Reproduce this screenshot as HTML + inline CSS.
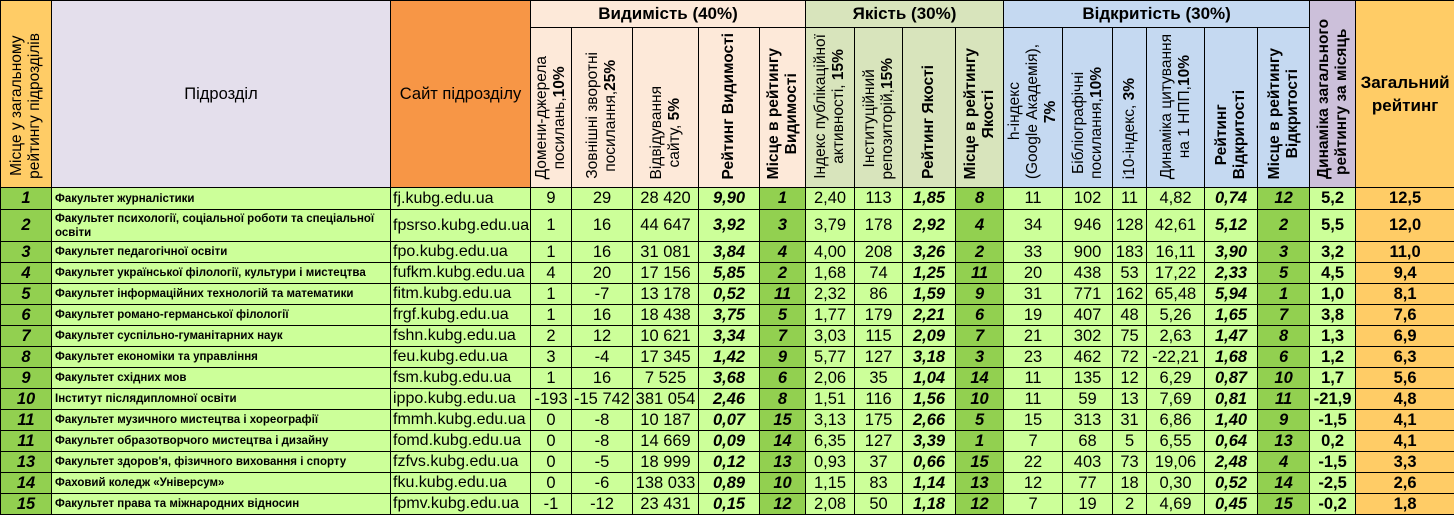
<!DOCTYPE html>
<html><head><meta charset="utf-8"><style>
body{margin:0;width:1454px;height:516px;overflow:hidden;background:#fff;font-family:"Liberation Sans",Arial,sans-serif}
table{border-collapse:collapse;table-layout:fixed;position:absolute;left:0;top:0;width:1454px}
td{border:1px solid #000;padding:0;text-align:center;font-size:16.5px;color:#000;overflow:hidden;white-space:nowrap;background:#CCFF99}
.hr td{vertical-align:bottom;padding-bottom:3px}
.v{writing-mode:vertical-rl;transform:rotate(180deg);display:inline-block;font-size:15.5px;line-height:18px;text-align:left;white-space:nowrap;max-height:154px}
.b{font-weight:bold}
.r{font-weight:bold;font-style:italic}
.rk{background:#92D050;font-weight:bold;font-style:italic}
.nm{text-align:left;font-weight:bold;font-size:11.5px;padding-left:3px;white-space:normal;line-height:14px}
.st{text-align:left;font-size:16px;padding-left:2px}
.tot{background:#FFCC66;font-weight:bold}
.dy{font-weight:bold}
.h0{background:#FFCC66}
.hv{background:#FDE9D9}
.hq{background:#D8E4BC}
.ho{background:#C5D9F1}
.hd{background:#CCC0DA}
.gt{font-weight:bold;font-size:17px}
</style></head><body>
<table>
<colgroup>
<col style="width:51px"><col style="width:339px"><col style="width:140px">
<col style="width:41px"><col style="width:61px"><col style="width:66px"><col style="width:61px"><col style="width:46px">
<col style="width:49px"><col style="width:48px"><col style="width:53px"><col style="width:48px">
<col style="width:59px"><col style="width:50px"><col style="width:34px"><col style="width:58px"><col style="width:53px"><col style="width:52px">
<col style="width:46px"><col style="width:99px">
</colgroup>
<tr style="height:27px">
<td rowspan="2" class="h0" style="vertical-align:bottom;padding-bottom:3px"><span class="v" style="text-align:center">Місце у загальному<br>рейтингу підрозділів</span></td>
<td rowspan="2" style="background:#E4DFEC;font-size:16.5px">Підрозділ</td>
<td rowspan="2" style="background:#F79646;font-size:16.5px">Сайт підрозділу</td>
<td colspan="5" class="hv gt">Видимість (40%)</td>
<td colspan="4" class="hq gt">Якість (30%)</td>
<td colspan="6" class="ho gt">Відкритість (30%)</td>
<td rowspan="2" class="hd" style="vertical-align:bottom;padding-bottom:3px"><span class="v b" style="text-align:center">Динаміка загального<br>рейтингу за місяць</span></td>
<td rowspan="2" class="h0 b" style="white-space:normal;line-height:23px;font-size:17px">Загальний<br>рейтинг</td>
</tr>
<tr style="height:160px" class="hr">
<td class="hv"><span class="v" style="text-align:center">Домени-джерела<br>посилань,<b>10%</b></span></td>
<td class="hv"><span class="v" style="text-align:center">Зовнішні зворотні<br>посилання,<b>25%</b></span></td>
<td class="hv"><span class="v" style="text-align:center">Відвідування<br>сайту, <b>5%</b></span></td>
<td class="hv"><span class="v b">Рейтинг Видимості</span></td>
<td class="hv"><span class="v b" style="text-align:center">Місце в рейтингу<br>Видимості</span></td>
<td class="hq"><span class="v" style="text-align:center">Індекс публікаційної<br>активності, <b>15%</b></span></td>
<td class="hq"><span class="v" style="text-align:center">Інституційний<br>репозиторій,<b>15%</b></span></td>
<td class="hq"><span class="v b">Рейтинг Якості</span></td>
<td class="hq"><span class="v b" style="text-align:center">Місце в рейтингу<br>Якості</span></td>
<td class="ho"><span class="v" style="text-align:center">h-індекс<br>(Google Академія),<br><b>7%</b></span></td>
<td class="ho"><span class="v" style="text-align:center">Бібліографічні<br>посилання,<b>10%</b></span></td>
<td class="ho"><span class="v">i10-індекс, <b>3%</b></span></td>
<td class="ho"><span class="v" style="text-align:center">Динаміка цитування<br>на 1 НПП,<b>10%</b></span></td>
<td class="ho"><span class="v b" style="text-align:center">Рейтинг<br>Відкритості</span></td>
<td class="ho"><span class="v b" style="text-align:center">Місце в рейтингу<br>Відкритості</span></td>
</tr>
<tr style="height:22px"><td class="rk">1</td><td class="nm">Факультет журналістики</td><td class="st">fj.kubg.edu.ua</td><td>9</td><td>29</td><td>28 420</td><td class="r">9,90</td><td class="rk">1</td><td>2,40</td><td>113</td><td class="r">1,85</td><td class="rk">8</td><td>11</td><td>102</td><td>11</td><td>4,82</td><td class="r">0,74</td><td class="rk">12</td><td class="dy">5,2</td><td class="tot">12,5</td></tr>
<tr style="height:32px"><td class="rk">2</td><td class="nm">Факультет психології, соціальної роботи та спеціальної освіти</td><td class="st">fpsrso.kubg.edu.ua</td><td>1</td><td>16</td><td>44 647</td><td class="r">3,92</td><td class="rk">3</td><td>3,79</td><td>178</td><td class="r">2,92</td><td class="rk">4</td><td>34</td><td>946</td><td>128</td><td>42,61</td><td class="r">5,12</td><td class="rk">2</td><td class="dy">5,5</td><td class="tot">12,0</td></tr>
<tr style="height:21px"><td class="rk">3</td><td class="nm">Факультет педагогічної освіти</td><td class="st">fpo.kubg.edu.ua</td><td>1</td><td>16</td><td>31 081</td><td class="r">3,84</td><td class="rk">4</td><td>4,00</td><td>208</td><td class="r">3,26</td><td class="rk">2</td><td>33</td><td>900</td><td>183</td><td>16,11</td><td class="r">3,90</td><td class="rk">3</td><td class="dy">3,2</td><td class="tot">11,0</td></tr>
<tr style="height:21px"><td class="rk">4</td><td class="nm">Факультет української філології, культури і мистецтва</td><td class="st">fufkm.kubg.edu.ua</td><td>4</td><td>20</td><td>17 156</td><td class="r">5,85</td><td class="rk">2</td><td>1,68</td><td>74</td><td class="r">1,25</td><td class="rk">11</td><td>20</td><td>438</td><td>53</td><td>17,22</td><td class="r">2,33</td><td class="rk">5</td><td class="dy">4,5</td><td class="tot">9,4</td></tr>
<tr style="height:21px"><td class="rk">5</td><td class="nm">Факультет інформаційних технологій та математики</td><td class="st">fitm.kubg.edu.ua</td><td>1</td><td>-7</td><td>13 178</td><td class="r">0,52</td><td class="rk">11</td><td>2,32</td><td>86</td><td class="r">1,59</td><td class="rk">9</td><td>31</td><td>771</td><td>162</td><td>65,48</td><td class="r">5,94</td><td class="rk">1</td><td class="dy">1,0</td><td class="tot">8,1</td></tr>
<tr style="height:21px"><td class="rk">6</td><td class="nm">Факультет романо-германської філології</td><td class="st">frgf.kubg.edu.ua</td><td>1</td><td>16</td><td>18 438</td><td class="r">3,75</td><td class="rk">5</td><td>1,77</td><td>179</td><td class="r">2,21</td><td class="rk">6</td><td>19</td><td>407</td><td>48</td><td>5,26</td><td class="r">1,65</td><td class="rk">7</td><td class="dy">3,8</td><td class="tot">7,6</td></tr>
<tr style="height:21px"><td class="rk">7</td><td class="nm">Факультет суспільно-гуманітарних наук</td><td class="st">fshn.kubg.edu.ua</td><td>2</td><td>12</td><td>10 621</td><td class="r">3,34</td><td class="rk">7</td><td>3,03</td><td>115</td><td class="r">2,09</td><td class="rk">7</td><td>21</td><td>302</td><td>75</td><td>2,63</td><td class="r">1,47</td><td class="rk">8</td><td class="dy">1,3</td><td class="tot">6,9</td></tr>
<tr style="height:21px"><td class="rk">8</td><td class="nm">Факультет економіки та управління</td><td class="st">feu.kubg.edu.ua</td><td>3</td><td>-4</td><td>17 345</td><td class="r">1,42</td><td class="rk">9</td><td>5,77</td><td>127</td><td class="r">3,18</td><td class="rk">3</td><td>23</td><td>462</td><td>72</td><td>-22,21</td><td class="r">1,68</td><td class="rk">6</td><td class="dy">1,2</td><td class="tot">6,3</td></tr>
<tr style="height:21px"><td class="rk">9</td><td class="nm">Факультет східних мов</td><td class="st">fsm.kubg.edu.ua</td><td>1</td><td>16</td><td>7 525</td><td class="r">3,68</td><td class="rk">6</td><td>2,06</td><td>35</td><td class="r">1,04</td><td class="rk">14</td><td>11</td><td>135</td><td>12</td><td>6,29</td><td class="r">0,87</td><td class="rk">10</td><td class="dy">1,7</td><td class="tot">5,6</td></tr>
<tr style="height:21px"><td class="rk">10</td><td class="nm">Інститут післядипломної освіти</td><td class="st">ippo.kubg.edu.ua</td><td>-193</td><td>-15 742</td><td>381 054</td><td class="r">2,46</td><td class="rk">8</td><td>1,51</td><td>116</td><td class="r">1,56</td><td class="rk">10</td><td>11</td><td>59</td><td>13</td><td>7,69</td><td class="r">0,81</td><td class="rk">11</td><td class="dy">-21,9</td><td class="tot">4,8</td></tr>
<tr style="height:21px"><td class="rk">11</td><td class="nm">Факультет музичного мистецтва і хореографії</td><td class="st">fmmh.kubg.edu.ua</td><td>0</td><td>-8</td><td>10 187</td><td class="r">0,07</td><td class="rk">15</td><td>3,13</td><td>175</td><td class="r">2,66</td><td class="rk">5</td><td>15</td><td>313</td><td>31</td><td>6,86</td><td class="r">1,40</td><td class="rk">9</td><td class="dy">-1,5</td><td class="tot">4,1</td></tr>
<tr style="height:21px"><td class="rk">11</td><td class="nm">Факультет образотворчого мистецтва і дизайну</td><td class="st">fomd.kubg.edu.ua</td><td>0</td><td>-8</td><td>14 669</td><td class="r">0,09</td><td class="rk">14</td><td>6,35</td><td>127</td><td class="r">3,39</td><td class="rk">1</td><td>7</td><td>68</td><td>5</td><td>6,55</td><td class="r">0,64</td><td class="rk">13</td><td class="dy">0,2</td><td class="tot">4,1</td></tr>
<tr style="height:21px"><td class="rk">13</td><td class="nm">Факультет здоров'я, фізичного виховання і спорту</td><td class="st">fzfvs.kubg.edu.ua</td><td>0</td><td>-5</td><td>18 999</td><td class="r">0,12</td><td class="rk">13</td><td>0,93</td><td>37</td><td class="r">0,66</td><td class="rk">15</td><td>22</td><td>403</td><td>73</td><td>19,06</td><td class="r">2,48</td><td class="rk">4</td><td class="dy">-1,5</td><td class="tot">3,3</td></tr>
<tr style="height:21px"><td class="rk">14</td><td class="nm">Фаховий коледж «Універсум»</td><td class="st">fku.kubg.edu.ua</td><td>0</td><td>-6</td><td>138 033</td><td class="r">0,89</td><td class="rk">10</td><td>1,15</td><td>83</td><td class="r">1,14</td><td class="rk">13</td><td>12</td><td>77</td><td>18</td><td>0,30</td><td class="r">0,52</td><td class="rk">14</td><td class="dy">-2,5</td><td class="tot">2,6</td></tr>
<tr style="height:21px"><td class="rk">15</td><td class="nm">Факультет права та міжнародних відносин</td><td class="st">fpmv.kubg.edu.ua</td><td>-1</td><td>-12</td><td>23 431</td><td class="r">0,15</td><td class="rk">12</td><td>2,08</td><td>50</td><td class="r">1,18</td><td class="rk">12</td><td>7</td><td>19</td><td>2</td><td>4,69</td><td class="r">0,45</td><td class="rk">15</td><td class="dy">-0,2</td><td class="tot">1,8</td></tr>
</table>
</body></html>
